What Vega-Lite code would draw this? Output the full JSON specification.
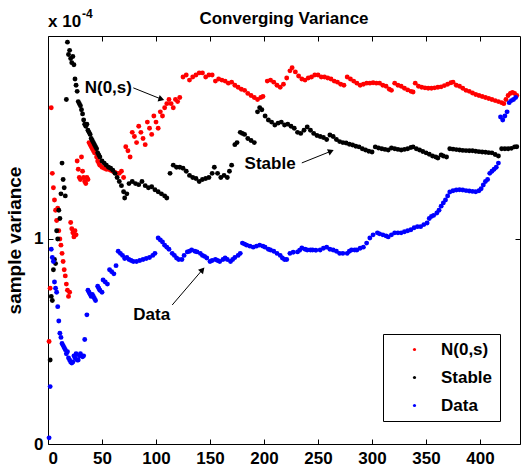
{
  "$schema": "https://vega.github.io/schema/vega-lite/v6.json",
  "width": 472,
  "height": 408,
  "autosize": {"type": "none"},
  "padding": {"left": 48, "top": 36, "right": 1, "bottom": 28},
  "background": "white",
  "title": {"text": "Converging Variance", "font": "Liberation Sans", "fontSize": 17, "fontWeight": "bold", "color": "black", "anchor": "middle", "baseline": "alphabetic", "offset": 13, "dy": 46},
  "config": {
    "view": {"stroke": "black", "strokeWidth": 1},
    "axis": {"domain": false, "grid": false, "labelFont": "Liberation Sans", "labelFontSize": 17, "labelFontWeight": "bold", "labelColor": "black", "tickColor": "black", "tickSize": -5, "titleFont": "Liberation Sans", "titleFontSize": 19, "titleFontWeight": "bold", "titleColor": "black"},
    "legend": {"orient": "none", "legendX": 335, "legendY": 298, "strokeColor": "black", "fillColor": "white", "padding": 7, "labelFont": "Liberation Sans", "labelFontSize": 17, "labelFontWeight": "bold", "labelColor": "black", "symbolType": "circle", "symbolSize": 10, "rowPadding": 10, "labelOffset": 18, "symbolOffset": 16, "cornerRadius": 0}
  },
  "datasets": {
    "red": [
      {"x":1,"v":0.50},{"x":2,"v":0.76},{"x":3,"v":1.64},{"x":4,"v":1.32},{"x":5,"v":1.25},{"x":6,"v":1.19},{"x":7,"v":1.14},{"x":8,"v":1.09},{"x":9,"v":1.15},{"x":10,"v":1.04},
      {"x":11,"v":1.00},{"x":12,"v":0.97},{"x":13,"v":0.93},{"x":14,"v":0.89},{"x":15,"v":0.85},{"x":16,"v":0.82},{"x":17,"v":0.78},{"x":18,"v":0.75},{"x":19,"v":0.72},{"x":20,"v":0.74},
      {"x":21,"v":1.08},{"x":22,"v":1.05},{"x":23,"v":1.03},{"x":24,"v":1.01},{"x":25,"v":1.04},{"x":26,"v":1.02},{"x":27,"v":1.38},{"x":28,"v":1.34},{"x":29,"v":1.30},{"x":30,"v":1.29},
      {"x":31,"v":1.40},{"x":32,"v":1.33},{"x":33,"v":1.30},{"x":34,"v":1.28},{"x":35,"v":1.27},{"x":36,"v":1.30},{"x":37,"v":1.29},{"x":38,"v":1.47},{"x":39,"v":1.46},{"x":40,"v":1.45},
      {"x":41,"v":1.44},{"x":42,"v":1.43},{"x":43,"v":1.42},{"x":44,"v":1.42},{"x":45,"v":1.40},{"x":46,"v":1.38},{"x":47,"v":1.37},{"x":48,"v":1.36},{"x":50,"v":1.35},{"x":52,"v":1.345},
      {"x":54,"v":1.34},{"x":56,"v":1.34},{"x":58,"v":1.335},{"x":60,"v":1.33},{"x":62,"v":1.325},{"x":64,"v":1.32},{"x":66,"v":1.32},{"x":68,"v":1.33},{"x":70,"v":1.30},{"x":72,"v":1.45},
      {"x":74,"v":1.43},{"x":76,"v":1.40},{"x":78,"v":1.52},{"x":80,"v":1.50},{"x":82,"v":1.47},{"x":84,"v":1.55},{"x":86,"v":1.52},{"x":88,"v":1.49},{"x":90,"v":1.46},{"x":92,"v":1.57},
      {"x":94,"v":1.54},{"x":96,"v":1.51},{"x":98,"v":1.60},{"x":100,"v":1.57},{"x":102,"v":1.54},{"x":104,"v":1.62},{"x":106,"v":1.60},{"x":108,"v":1.64},{"x":110,"v":1.66},{"x":112,"v":1.68},
      {"x":114,"v":1.66},{"x":116,"v":1.64},{"x":118,"v":1.68},{"x":120,"v":1.67},{"x":122,"v":1.69},
      {"x":125,"v":1.79},{"x":128,"v":1.80},{"x":131,"v":1.775},{"x":134,"v":1.79},{"x":137,"v":1.80},{"x":140,"v":1.81},{"x":143,"v":1.81},{"x":146,"v":1.79},{"x":149,"v":1.80},{"x":152,"v":1.80},
      {"x":155,"v":1.77},{"x":158,"v":1.78},{"x":161,"v":1.775},{"x":164,"v":1.77},{"x":167,"v":1.76},{"x":170,"v":1.765},{"x":173,"v":1.75},{"x":176,"v":1.74},{"x":179,"v":1.73},{"x":182,"v":1.725},
      {"x":185,"v":1.71},{"x":188,"v":1.70},{"x":191,"v":1.69},{"x":194,"v":1.68},{"x":197,"v":1.69},{"x":199,"v":1.695},
      {"x":203,"v":1.77},{"x":206,"v":1.775},{"x":209,"v":1.765},{"x":212,"v":1.75},{"x":215,"v":1.74},{"x":218,"v":1.755},{"x":221,"v":1.785},{"x":224,"v":1.82},{"x":226,"v":1.835},{"x":229,"v":1.815},
      {"x":232,"v":1.795},{"x":235,"v":1.78},{"x":238,"v":1.775},{"x":241,"v":1.785},{"x":244,"v":1.79},{"x":247,"v":1.80},{"x":250,"v":1.80},{"x":253,"v":1.79},{"x":256,"v":1.79},{"x":259,"v":1.785},
      {"x":262,"v":1.78},{"x":265,"v":1.77},{"x":268,"v":1.765},{"x":271,"v":1.755},{"x":274,"v":1.75},{"x":277,"v":1.79},{"x":280,"v":1.78},{"x":283,"v":1.77},{"x":286,"v":1.76},{"x":289,"v":1.75},
      {"x":292,"v":1.755},{"x":295,"v":1.76},{"x":298,"v":1.76},{"x":301,"v":1.762},{"x":304,"v":1.76},{"x":307,"v":1.76},{"x":310,"v":1.75},{"x":313,"v":1.745},{"x":316,"v":1.73},{"x":318,"v":1.725},
      {"x":321,"v":1.76},{"x":324,"v":1.75},{"x":327,"v":1.745},{"x":330,"v":1.735},{"x":333,"v":1.727},{"x":336,"v":1.72},{"x":338,"v":1.717},{"x":340,"v":1.76},{"x":343,"v":1.745},{"x":346,"v":1.74},
      {"x":349,"v":1.737},{"x":352,"v":1.735},{"x":355,"v":1.735},{"x":358,"v":1.737},{"x":361,"v":1.74},{"x":364,"v":1.742},{"x":367,"v":1.748},{"x":370,"v":1.755},{"x":373,"v":1.762},{"x":375,"v":1.765},
      {"x":378,"v":1.75},{"x":381,"v":1.745},{"x":384,"v":1.735},{"x":387,"v":1.725},{"x":390,"v":1.72},{"x":393,"v":1.712},{"x":396,"v":1.705},{"x":399,"v":1.70},{"x":402,"v":1.695},{"x":405,"v":1.69},
      {"x":408,"v":1.685},{"x":411,"v":1.68},{"x":414,"v":1.675},{"x":417,"v":1.67},{"x":420,"v":1.665},{"x":422,"v":1.66},{"x":424,"v":1.68},{"x":426,"v":1.70},{"x":428,"v":1.71},{"x":430,"v":1.715},
      {"x":432,"v":1.71},{"x":434,"v":1.70}
    ],
    "black": [
      {"x":2,"v":0.41},{"x":3,"v":0.72},{"x":4,"v":0.70},{"x":5,"v":0.85},{"x":6,"v":0.90},{"x":7,"v":0.88},{"x":8,"v":1.04},{"x":9,"v":1.00},{"x":10,"v":1.14},{"x":11,"v":1.10},
      {"x":12,"v":1.22},{"x":13,"v":1.37},{"x":14,"v":1.29},{"x":15,"v":1.25},{"x":16,"v":1.21},{"x":17,"v":1.68},{"x":18,"v":1.96},{"x":19,"v":1.90},{"x":20,"v":1.92},{"x":21,"v":1.88},
      {"x":22,"v":1.86},{"x":23,"v":1.89},{"x":24,"v":1.85},{"x":25,"v":1.78},{"x":26,"v":1.75},{"x":27,"v":1.72},{"x":28,"v":1.67},{"x":29,"v":1.66},{"x":30,"v":1.65},{"x":31,"v":1.63},
      {"x":32,"v":1.61},{"x":33,"v":1.58},{"x":34,"v":1.56},{"x":35,"v":1.55},{"x":36,"v":1.56},{"x":37,"v":1.53},{"x":38,"v":1.52},{"x":39,"v":1.51},{"x":40,"v":1.49},{"x":41,"v":1.48},
      {"x":42,"v":1.47},{"x":43,"v":1.46},{"x":44,"v":1.45},{"x":45,"v":1.44},{"x":46,"v":1.42},{"x":47,"v":1.41},{"x":48,"v":1.40},{"x":50,"v":1.38},{"x":52,"v":1.37},{"x":54,"v":1.36},
      {"x":56,"v":1.35},{"x":58,"v":1.345},{"x":60,"v":1.335},{"x":62,"v":1.32},{"x":64,"v":1.30},{"x":66,"v":1.28},{"x":68,"v":1.26},{"x":70,"v":1.23},{"x":71,"v":1.20},{"x":73,"v":1.22},
      {"x":75,"v":1.27},{"x":78,"v":1.28},{"x":81,"v":1.27},{"x":84,"v":1.265},{"x":87,"v":1.28},{"x":90,"v":1.26},{"x":93,"v":1.25},{"x":96,"v":1.255},{"x":99,"v":1.24},{"x":102,"v":1.23},
      {"x":105,"v":1.22},{"x":108,"v":1.21},{"x":110,"v":1.20},
      {"x":113,"v":1.32},{"x":116,"v":1.36},{"x":119,"v":1.35},{"x":122,"v":1.35},{"x":125,"v":1.345},{"x":128,"v":1.33},{"x":131,"v":1.31},{"x":134,"v":1.30},{"x":137,"v":1.295},{"x":140,"v":1.28},
      {"x":143,"v":1.29},{"x":146,"v":1.295},{"x":149,"v":1.30},{"x":152,"v":1.32},{"x":154,"v":1.35},{"x":157,"v":1.32},{"x":160,"v":1.30},{"x":163,"v":1.31},{"x":166,"v":1.30},{"x":168,"v":1.33},
      {"x":170,"v":1.36},{"x":173,"v":1.46},{"x":175,"v":1.47},{"x":178,"v":1.52},{"x":180,"v":1.515},{"x":182,"v":1.51},{"x":185,"v":1.49},{"x":188,"v":1.48},{"x":191,"v":1.47},{"x":194,"v":1.62},
      {"x":196,"v":1.64},{"x":198,"v":1.63},{"x":201,"v":1.60},{"x":204,"v":1.58},{"x":207,"v":1.57},{"x":210,"v":1.556},{"x":213,"v":1.565},{"x":216,"v":1.57},{"x":219,"v":1.556},{"x":222,"v":1.56},
      {"x":225,"v":1.55},{"x":228,"v":1.54},{"x":231,"v":1.52},{"x":234,"v":1.515},{"x":237,"v":1.53},{"x":240,"v":1.546},{"x":243,"v":1.53},{"x":246,"v":1.515},{"x":249,"v":1.505},{"x":252,"v":1.50},
      {"x":255,"v":1.495},{"x":258,"v":1.485},{"x":261,"v":1.507},{"x":264,"v":1.50},{"x":267,"v":1.485},{"x":270,"v":1.475},{"x":273,"v":1.47},{"x":276,"v":1.468},{"x":279,"v":1.462},{"x":282,"v":1.458},
      {"x":285,"v":1.452},{"x":288,"v":1.449},{"x":291,"v":1.44},{"x":294,"v":1.434},{"x":297,"v":1.428},{"x":300,"v":1.424},{"x":303,"v":1.449},{"x":306,"v":1.444},{"x":309,"v":1.44},{"x":312,"v":1.437},
      {"x":315,"v":1.434},{"x":318,"v":1.444},{"x":321,"v":1.44},{"x":324,"v":1.437},{"x":327,"v":1.434},{"x":330,"v":1.437},{"x":333,"v":1.44},{"x":336,"v":1.446},{"x":338,"v":1.449},{"x":341,"v":1.44},
      {"x":344,"v":1.434},{"x":347,"v":1.427},{"x":350,"v":1.42},{"x":353,"v":1.413},{"x":356,"v":1.405},{"x":359,"v":1.40},{"x":361,"v":1.395},{"x":364,"v":1.41},{"x":366,"v":1.405},{"x":369,"v":1.40},
      {"x":372,"v":1.44},{"x":375,"v":1.438},{"x":378,"v":1.436},{"x":381,"v":1.434},{"x":384,"v":1.432},{"x":387,"v":1.431},{"x":390,"v":1.43},{"x":393,"v":1.43},{"x":396,"v":1.428},{"x":399,"v":1.426},
      {"x":402,"v":1.424},{"x":405,"v":1.423},{"x":408,"v":1.421},{"x":411,"v":1.42},{"x":414,"v":1.412},{"x":417,"v":1.405},{"x":420,"v":1.44},{"x":423,"v":1.44},{"x":426,"v":1.44},{"x":429,"v":1.442},
      {"x":432,"v":1.449},{"x":434,"v":1.45}
    ],
    "blue": [
      {"x":1,"v":0.03},{"x":2,"v":0.28},{"x":3,"v":0.95},{"x":4,"v":0.91},{"x":5,"v":0.89},{"x":6,"v":0.79},{"x":7,"v":0.76},{"x":8,"v":0.74},{"x":9,"v":0.67},{"x":10,"v":0.60},
      {"x":11,"v":0.54},{"x":12,"v":0.52},{"x":13,"v":0.49},{"x":14,"v":0.48},{"x":15,"v":0.47},{"x":16,"v":0.46},{"x":17,"v":0.44},{"x":18,"v":0.45},{"x":19,"v":0.42},{"x":20,"v":0.41},
      {"x":21,"v":0.40},{"x":22,"v":0.395},{"x":23,"v":0.40},{"x":24,"v":0.43},{"x":25,"v":0.42},{"x":26,"v":0.44},{"x":27,"v":0.41},{"x":28,"v":0.41},{"x":29,"v":0.43},{"x":30,"v":0.44},
      {"x":31,"v":0.43},{"x":32,"v":0.425},{"x":33,"v":0.43},{"x":34,"v":0.51},{"x":36,"v":0.63},{"x":37,"v":0.75},{"x":38,"v":0.74},{"x":39,"v":0.73},{"x":40,"v":0.72},{"x":41,"v":0.73},
      {"x":42,"v":0.72},{"x":43,"v":0.71},{"x":44,"v":0.70},{"x":46,"v":0.77},{"x":47,"v":0.76},{"x":48,"v":0.75},{"x":50,"v":0.74},{"x":51,"v":0.80},{"x":53,"v":0.79},{"x":55,"v":0.78},
      {"x":57,"v":0.85},{"x":59,"v":0.84},{"x":61,"v":0.83},{"x":63,"v":0.87},{"x":65,"v":0.94},{"x":67,"v":0.93},{"x":69,"v":0.92},{"x":71,"v":0.905},{"x":73,"v":0.91},{"x":75,"v":0.90},
      {"x":77,"v":0.895},{"x":79,"v":0.89},{"x":82,"v":0.89},{"x":85,"v":0.895},{"x":88,"v":0.90},{"x":91,"v":0.905},{"x":94,"v":0.91},{"x":97,"v":0.92},{"x":99,"v":0.93},{"x":102,"v":1.005},
      {"x":104,"v":0.995},{"x":106,"v":0.985},{"x":108,"v":0.97},{"x":110,"v":0.96},{"x":112,"v":0.95},{"x":115,"v":0.93},{"x":117,"v":0.92},{"x":119,"v":0.907},{"x":121,"v":0.90},{"x":124,"v":0.90},
      {"x":126,"v":0.92},{"x":129,"v":0.937},{"x":131,"v":0.94},{"x":133,"v":0.946},{"x":136,"v":0.94},{"x":138,"v":0.937},{"x":141,"v":0.93},{"x":143,"v":0.92},{"x":145,"v":0.915},{"x":147,"v":0.907},
      {"x":150,"v":0.89},{"x":152,"v":0.895},{"x":155,"v":0.90},{"x":157,"v":0.895},{"x":159,"v":0.89},{"x":162,"v":0.90},{"x":164,"v":0.907},{"x":166,"v":0.90},{"x":169,"v":0.89},{"x":171,"v":0.90},
      {"x":173,"v":0.91},{"x":176,"v":0.92},{"x":178,"v":0.93},{"x":180,"v":0.98},{"x":182,"v":0.975},{"x":184,"v":0.97},{"x":187,"v":0.965},{"x":190,"v":0.96},{"x":193,"v":0.965},{"x":196,"v":0.97},
      {"x":199,"v":0.965},{"x":201,"v":0.96},{"x":204,"v":0.95},{"x":206,"v":0.946},{"x":209,"v":0.94},{"x":212,"v":0.93},{"x":215,"v":0.92},{"x":217,"v":0.907},{"x":219,"v":0.90},{"x":221,"v":0.90},
      {"x":224,"v":0.93},{"x":227,"v":0.935},{"x":231,"v":0.937},{"x":233,"v":0.945},{"x":235,"v":0.956},{"x":238,"v":0.95},{"x":240,"v":0.946},{"x":243,"v":0.946},{"x":245,"v":0.946},{"x":248,"v":0.945},
      {"x":252,"v":0.946},{"x":255,"v":0.955},{"x":258,"v":0.96},{"x":261,"v":0.95},{"x":264,"v":0.946},{"x":267,"v":0.94},{"x":270,"v":0.93},{"x":273,"v":0.93},{"x":277,"v":0.93},{"x":279,"v":0.94},
      {"x":281,"v":0.946},{"x":284,"v":0.946},{"x":286,"v":0.946},{"x":289,"v":0.955},{"x":292,"v":0.96},{"x":295,"v":0.98},{"x":298,"v":1.005},{"x":301,"v":1.02},{"x":305,"v":1.03},{"x":307,"v":1.025},
      {"x":310,"v":1.02},{"x":313,"v":1.015},{"x":315,"v":1.01},{"x":318,"v":1.02},{"x":321,"v":1.03},{"x":324,"v":1.03},{"x":327,"v":1.03},{"x":330,"v":1.035},{"x":333,"v":1.04},{"x":336,"v":1.045},
      {"x":339,"v":1.055},{"x":342,"v":1.06},{"x":345,"v":1.06},{"x":348,"v":1.07},{"x":351,"v":1.078},{"x":353,"v":1.10},{"x":355,"v":1.11},{"x":357,"v":1.115},{"x":360,"v":1.127},{"x":362,"v":1.14},
      {"x":364,"v":1.16},{"x":366,"v":1.176},{"x":368,"v":1.19},{"x":370,"v":1.21},{"x":372,"v":1.229},{"x":375,"v":1.235},{"x":378,"v":1.239},{"x":381,"v":1.24},{"x":384,"v":1.239},{"x":387,"v":1.236},
      {"x":390,"v":1.234},{"x":393,"v":1.232},{"x":396,"v":1.23},{"x":399,"v":1.235},{"x":401,"v":1.245},{"x":403,"v":1.263},{"x":405,"v":1.28},{"x":407,"v":1.29},{"x":409,"v":1.32},{"x":411,"v":1.33},
      {"x":413,"v":1.34},{"x":415,"v":1.35},{"x":417,"v":1.37},{"x":419,"v":1.595},{"x":421,"v":1.58},{"x":423,"v":1.60},{"x":425,"v":1.62},{"x":427,"v":1.665},{"x":429,"v":1.675},{"x":431,"v":1.68},
      {"x":433,"v":1.69}
    ],
    "notes": [
      {"label":"N(0,s)","tx":34,"ty":1.737,"ax":79,"ay":1.737,"bx":105,"by":1.682},
      {"label":"Stable","tx":182,"ty":1.366,"ax":235,"ay":1.371,"bx":262,"by":1.428},
      {"label":"Data","tx":79,"ty":0.63,"ax":115,"ay":0.678,"bx":143,"by":0.85}
    ],
    "scale": [{"t":"x 10","e":"-4"}]
  },
  "resolve": {"axis": {"x": "independent", "y": "independent"}},
  "layer": [
    {
      "data": {"name": "red"},
      "mark": {"type": "point", "filled": true, "shape": "circle", "size": 24, "opacity": 1},
      "encoding": {
        "x": {"field": "x", "type": "quantitative", "scale": {"domain": [0, 437], "nice": false, "zero": false},
              "axis": {"orient": "bottom", "values": [0, 50, 100, 150, 200, 250, 300, 350, 400], "title": null, "labelPadding": 11}},
        "y": {"field": "v", "type": "quantitative", "scale": {"domain": [0, 1.99], "nice": false},
              "axis": {"orient": "left", "values": [0, 1], "title": "sample variance", "labelPadding": 10, "titlePadding": 9}},
        "color": {"datum": "N(0,s)", "type": "nominal", "scale": {"domain": ["N(0,s)", "Stable", "Data"], "range": ["#ff0000", "#000000", "#0000ff"]}, "legend": {"title": null}}
      }
    },
    {
      "data": {"name": "black"},
      "mark": {"type": "point", "filled": true, "shape": "circle", "size": 24, "opacity": 1},
      "encoding": {
        "x": {"field": "x", "type": "quantitative", "axis": null},
        "y": {"field": "v", "type": "quantitative", "axis": null},
        "color": {"datum": "Stable", "type": "nominal"}
      }
    },
    {
      "data": {"name": "blue"},
      "mark": {"type": "point", "filled": true, "shape": "circle", "size": 24, "opacity": 1},
      "encoding": {
        "x": {"field": "x", "type": "quantitative", "axis": null},
        "y": {"field": "v", "type": "quantitative", "axis": null},
        "color": {"datum": "Data", "type": "nominal"}
      }
    },
    {
      "data": {"name": "notes"},
      "mark": {"type": "rule", "color": "black", "strokeWidth": 1},
      "encoding": {
        "x": {"field": "ax", "type": "quantitative", "axis": {"orient": "top", "values": [0, 50, 100, 150, 200, 250, 300, 350, 400], "labels": false, "title": null}},
        "y": {"field": "ay", "type": "quantitative", "axis": {"orient": "right", "values": [0, 1], "labels": false, "title": null}},
        "x2": {"field": "bx"},
        "y2": {"field": "by"}
      }
    },
    {
      "data": {"name": "notes"},
      "mark": {"type": "text", "align": "left", "baseline": "middle", "font": "Liberation Sans", "fontSize": 17, "fontWeight": "bold", "color": "black"},
      "encoding": {
        "x": {"field": "tx", "type": "quantitative", "axis": null},
        "y": {"field": "ty", "type": "quantitative", "axis": null},
        "text": {"field": "label"}
      }
    },
    {
      "data": {"name": "notes"},
      "transform": [{"filter": "datum.label == 'N(0,s)'"}],
      "mark": {"type": "point", "shape": "triangle-right", "filled": true, "size": 45, "angle": 18, "color": "black", "opacity": 1},
      "encoding": {
        "x": {"field": "bx", "type": "quantitative", "axis": null},
        "y": {"field": "by", "type": "quantitative", "axis": null}
      }
    },
    {
      "data": {"name": "notes"},
      "transform": [{"filter": "datum.label == 'Stable'"}],
      "mark": {"type": "point", "shape": "triangle-right", "filled": true, "size": 45, "angle": 337, "color": "black", "opacity": 1},
      "encoding": {
        "x": {"field": "bx", "type": "quantitative", "axis": null},
        "y": {"field": "by", "type": "quantitative", "axis": null}
      }
    },
    {
      "data": {"name": "notes"},
      "transform": [{"filter": "datum.label == 'Data'"}],
      "mark": {"type": "point", "shape": "triangle-right", "filled": true, "size": 45, "angle": 312, "color": "black", "opacity": 1},
      "encoding": {
        "x": {"field": "bx", "type": "quantitative", "axis": null},
        "y": {"field": "by", "type": "quantitative", "axis": null}
      }
    },
    {
      "data": {"name": "scale"},
      "mark": {"type": "text", "align": "left", "baseline": "alphabetic", "font": "Liberation Sans", "fontSize": 17, "fontWeight": "bold", "color": "black", "dy": -9},
      "encoding": {
        "x": {"datum": 0, "type": "quantitative", "axis": null},
        "y": {"datum": 1.99, "type": "quantitative", "axis": null},
        "text": {"field": "t"}
      }
    },
    {
      "data": {"name": "scale"},
      "mark": {"type": "text", "align": "left", "baseline": "alphabetic", "font": "Liberation Sans", "fontSize": 12, "fontWeight": "bold", "color": "black", "dx": 34, "dy": -18},
      "encoding": {
        "x": {"datum": 0, "type": "quantitative", "axis": null},
        "y": {"datum": 1.99, "type": "quantitative", "axis": null},
        "text": {"field": "e"}
      }
    }
  ]
}
